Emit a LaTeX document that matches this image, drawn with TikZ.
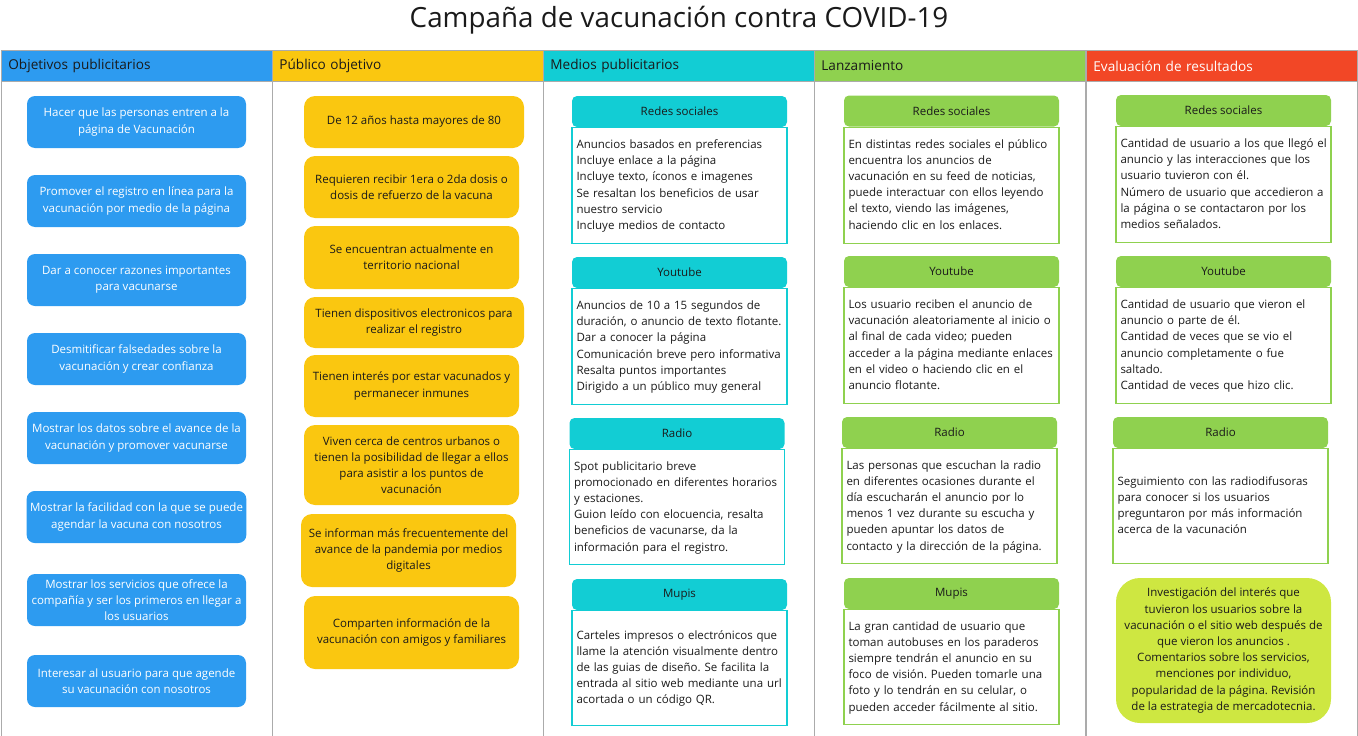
\documentclass[tikz,border=0pt]{standalone}
\usepackage{fontspec}
\setmainfont{Open Sans}
\usetikzlibrary{positioning}
\definecolor{mbblue}{HTML}{2D9BF0}
\definecolor{mbyellow}{HTML}{FAC710}
\definecolor{mbcyan}{HTML}{12CDD4}
\definecolor{mbgreen}{HTML}{8FD14F}
\definecolor{mbred}{HTML}{F24726}
\definecolor{mblime}{HTML}{CEE741}
\definecolor{mbgrid}{HTML}{ABABAB}
\definecolor{mbtext}{HTML}{1A1A1A}
\frenchspacing
% lines kept as the reference breaks them
\newcommand{\txtlines}[1]{\begin{tabular}{@{}l@{}}#1\end{tabular}}

\begin{document}
\begin{tikzpicture}[x=1pt, y=-1pt, text=mbtext,
    font=\fontsize{11.5}{16.2}\selectfont,
    colhead/.style={draw=mbgrid, line width=0.8pt, anchor=north west,
                    minimum height=31pt, text width=257pt, inner xsep=7pt,
                    align=left, font=\fontsize{13.6}{16}\selectfont},
    colframe/.style={draw=mbgrid, line width=0.8pt},
    goal/.style={fill=mbblue, rounded corners=8pt, text=white, align=center,
                 minimum width=219pt, minimum height=52pt, inner ysep=5pt},
    aud/.style={fill=mbyellow, rounded corners=11pt, align=center,
                minimum width=215pt, inner ysep=5pt},
    tabhead/.style={rounded corners=5pt, minimum width=215pt, minimum height=31pt},
    tabbody/.style={draw, fill=white, line width=1.2pt, align=left,
                    text width=206pt, inner xsep=4.5pt, minimum height=116pt}]
  \useasboundingbox (0,0) rectangle (1358,736);
  \node[font=\fontsize{27.8}{32}\selectfont, text=mbtext] (title) at (679,20)
    {Campaña de vacunación contra COVID-19};

  % columns
  \node[colhead, fill=mbblue] (col1) at (1,50) {Objetivos publicitarios};
  \node[colhead, fill=mbyellow] (col2) at (272,50) {Público objetivo};
  \node[colhead, fill=mbcyan] (col3) at (543,50) {Medios publicitarios};
  \node[colhead, fill=mbgreen] (col4) at (814,50) {Lanzamiento};
  \node[colhead, fill=mbred, text=white] (col5) at (1086,50) {Evaluación de resultados};
  \draw[colframe] (col1.south west) rectangle ([yshift=-700pt]col1.south east);
  \draw[colframe] (col2.south west) rectangle ([yshift=-700pt]col2.south east);
  \draw[colframe] (col3.south west) rectangle ([yshift=-700pt]col3.south east);
  \draw[colframe] (col4.south west) rectangle ([yshift=-700pt]col4.south east);
  \draw[colframe] (col5.south west) rectangle ([yshift=-700pt]col5.south east);

  % objetivos
  \node[goal] (g1) at (136.5,122) {Hacer que las personas entren a la\\página de Vacunación};
  \node[goal] (g2) at (136.5,201) {Promover el registro en línea para la\\vacunación por medio de la página};
  \node[goal] (g3) at (136.5,280) {Dar a conocer razones importantes\\para vacunarse};
  \node[goal] (g4) at (136.5,359) {Desmitificar falsedades sobre la\\vacunación y crear confianza};
  \node[goal] (g5) at (136.5,438) {Mostrar los datos sobre el avance de la\\vacunación y promover vacunarse};
  \node[goal] (g6) at (136.5,517) {Mostrar la facilidad con la que se puede\\agendar la vacuna con nosotros};
  \node[goal] (g7) at (136.5,600) {Mostrar los servicios que ofrece la\\compañía y ser los primeros en llegar a\\los usuarios};
  \node[goal] (g8) at (136.5,681) {Interesar al usuario para que agende\\su vacunación con nosotros};

  % publico
  \node[aud, minimum width=220pt, minimum height=52pt] (a1) at (414,122) {De 12 años hasta mayores de 80};
  \node[aud, minimum height=62pt] (a2) at (411.5,187) {Requieren recibir 1era o 2da dosis o\\dosis de refuerzo de la vacuna};
  \node[aud, minimum height=63pt] (a3) at (411.5,257.5) {Se encuentran actualmente en\\territorio nacional};
  \node[aud, minimum width=220pt, minimum height=51pt] (a4) at (414,322.5) {Tienen dispositivos electronicos para\\realizar el registro};
  \node[aud, minimum height=62pt] (a5) at (411.5,386) {Tienen interés por estar vacunados y\\permanecer inmunes};
  \node[aud, minimum height=80pt] (a6) at (411.5,465) {Viven cerca de centros urbanos o\\tienen la posibilidad de llegar a ellos\\para asistir a los puntos de\\vacunación};
  \node[aud, minimum height=73pt] (a7) at (408.5,550.5) {Se informan más frecuentemente del\\avance de la pandemia por medios\\digitales};
  \node[aud, minimum height=73pt] (a8) at (411.5,632.5) {Comparten información de la\\vacunación con amigos y familiares};

  % medios
  \node[tabhead, fill=mbcyan] (m1) at (679.5,111.5) {Redes sociales};
  \node[tabbody, draw=mbcyan, below=0pt of m1] (m1t)
    {\txtlines{Anuncios basados en preferencias\\Incluye enlace a la página\\Incluye texto, íconos e imagenes\\Se resaltan los beneficios de usar\\nuestro servicio\\Incluye medios de contacto}};
  \node[tabhead, fill=mbcyan] (m2) at (679.5,272.5) {Youtube};
  \node[tabbody, draw=mbcyan, below=0pt of m2] (m2t)
    {\txtlines{Anuncios de 10 a 15 segundos de\\duración, o anuncio de texto flotante.\\Dar a conocer la página\\Comunicación breve pero informativa\\Resalta puntos importantes\\Dirigido a un público muy general}};
  \node[tabhead, fill=mbcyan] (m3) at (677,433.5) {Radio};
  \node[tabbody, draw=mbcyan, below=0pt of m3, minimum height=115pt] (m3t)
    {\txtlines{Spot publicitario breve\\promocionado en diferentes horarios\\y estaciones.\\Guion leído con elocuencia, resalta\\beneficios de vacunarse, da la\\información para el registro.}};
  \node[tabhead, fill=mbcyan] (m4) at (679.5,594.5) {Mupis};
  \node[tabbody, draw=mbcyan, below=0pt of m4, minimum height=115pt] (m4t)
    {\txtlines{Carteles impresos o electrónicos que\\llame la atención visualmente dentro\\de las guias de diseño. Se facilita la\\entrada al sitio web mediante una url\\acortada o un código QR.}};

  % lanzamiento
  \node[tabhead, fill=mbgreen] (l1) at (951.5,111) {Redes sociales};
  \node[tabbody, draw=mbgreen, below=0pt of l1] (l1t)
    {\txtlines{En distintas redes sociales el público\\encuentra los anuncios de\\vacunación en su feed de noticias,\\puede interactuar con ellos leyendo\\el texto, viendo las imágenes,\\haciendo clic en los enlaces.}};
  \node[tabhead, fill=mbgreen] (l2) at (951.5,271.5) {Youtube};
  \node[tabbody, draw=mbgreen, below=0pt of l2] (l2t)
    {\txtlines{Los usuario reciben el anuncio de\\vacunación aleatoriamente al inicio o\\al final de cada video; pueden\\acceder a la página mediante enlaces\\en el video o haciendo clic en el\\anuncio flotante.}};
  \node[tabhead, fill=mbgreen] (l3) at (949.5,432.5) {Radio};
  \node[tabbody, draw=mbgreen, below=0pt of l3, minimum height=115pt] (l3t)
    {\txtlines{Las personas que escuchan la radio\\en diferentes ocasiones durante el\\día escucharán el anuncio por lo\\menos 1 vez durante su escucha y\\pueden apuntar los datos de\\contacto y la dirección de la página.}};
  \node[tabhead, fill=mbgreen] (l4) at (951.5,593.5) {Mupis};
  \node[tabbody, draw=mbgreen, below=0pt of l4, minimum height=115pt] (l4t)
    {\txtlines{La gran cantidad de usuario que\\toman autobuses en los paraderos\\siempre tendrán el anuncio en su\\foco de visión. Pueden tomarle una\\foto y lo tendrán en su celular, o\\pueden acceder fácilmente al sitio.}};

  % evaluacion
  \node[tabhead, fill=mbgreen] (e1) at (1223.5,110.5) {Redes sociales};
  \node[tabbody, draw=mbgreen, below=0pt of e1] (e1t)
    {\txtlines{Cantidad de usuario a los que llegó el\\anuncio y las interacciones que los\\usuario tuvieron con él.\\Número de usuario que accedieron a\\la página o se contactaron por los\\medios señalados.}};
  \node[tabhead, fill=mbgreen] (e2) at (1223.5,271.5) {Youtube};
  \node[tabbody, draw=mbgreen, below=0pt of e2] (e2t)
    {\txtlines{Cantidad de usuario que vieron el\\anuncio o parte de él.\\Cantidad de veces que se vio el\\anuncio completamente o fue\\saltado.\\Cantidad de veces que hizo clic.}};
  \node[tabhead, fill=mbgreen] (e3) at (1220.5,432.5) {Radio};
  \node[tabbody, draw=mbgreen, below=0pt of e3, minimum height=115pt] (e3t)
    {\txtlines{Seguimiento con las radiodifusoras\\para conocer si los usuarios\\preguntaron por más información\\acerca de la vacunación}};
  \node[fill=mblime, rounded corners=24pt, align=center, minimum width=215pt,
        minimum height=145pt] (e4) at (1223.5,650.5)
    {Investigación del interés que\\tuvieron los usuarios sobre la\\vacunación o el sitio web después de\\que vieron los anuncios .\\Comentarios sobre los servicios,\\menciones por individuo,\\popularidad de la página. Revisión\\de la estrategia de mercadotecnia.};
\end{tikzpicture}
\end{document}
